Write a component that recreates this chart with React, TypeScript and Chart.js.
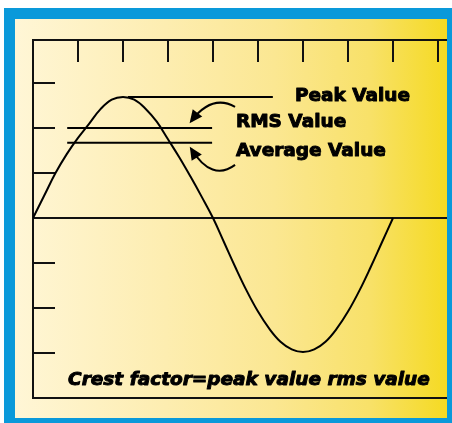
import React, { useEffect, useRef } from "react";
import { Chart, registerables } from "chart.js";

Chart.register(...registerables);

// ---- data (axis units: one tick = 1) ----
const xTicks = [1, 2, 3, 4, 5, 6, 7, 8, 9];
const yTicks = [-3, -2, -1, 1, 2, 3];
const waveX = [0, 0.25, 0.5, 0.75, 1, 1.25, 1.5, 1.75, 2, 2.25, 2.5, 2.75, 3, 3.25, 3.5, 3.75, 4,
  4.25, 4.5, 4.75, 5, 5.25, 5.5, 5.75, 6, 6.25, 6.5, 6.75, 7, 7.25, 7.5, 7.75, 8];
const waveY = [0, 0.5, 1.0, 1.42, 1.78, 2.1, 2.42, 2.63, 2.69, 2.63, 2.43, 2.14, 1.75, 1.35, 0.92, 0.47, 0,
  -0.55, -1.1, -1.62, -2.08, -2.46, -2.75, -2.92, -2.98, -2.92, -2.75, -2.46, -2.08, -1.62, -1.1, -0.55, 0];
const peakLevel = 2.69;
const rmsLevel = 2.0;
const avgLevel = 1.67;
const peakSpan = [2.11, 5.33];
const levelSpan = [0.76, 3.98];
const labels = ["Peak Value", "RMS Value", "Average Value"];
const formula = "Crest factor=peak value rms value";

const X_MIN = 0, X_MAX = 9.2, Y_MIN = -4, Y_MAX = 3.956;

const App = () => {
  const ref = useRef<HTMLCanvasElement>(null);
  useEffect(() => {
    if (!ref.current) return;
    const decor = {
      id: "decor",
      beforeDatasetsDraw(chart: any) {
        const { ctx, chartArea: a, scales } = chart;
        const xs = scales.x, ys = scales.y;
        ctx.save();
        ctx.strokeStyle = "#111";
        ctx.lineWidth = 2;
        ctx.beginPath();
        ctx.moveTo(a.right, a.top); ctx.lineTo(a.left, a.top); ctx.lineTo(a.left, a.bottom); ctx.lineTo(a.right, a.bottom);
        const y0 = ys.getPixelForValue(0);
        ctx.moveTo(a.left, y0); ctx.lineTo(a.right, y0);
        const tl = 22;
        xTicks.forEach((t) => {
          const px = xs.getPixelForValue(t);
          ctx.moveTo(px, a.top); ctx.lineTo(px, a.top + tl);
        });
        yTicks.forEach((t) => {
          const py = ys.getPixelForValue(t);
          ctx.moveTo(a.left, py); ctx.lineTo(a.left + tl, py);
        });
        ctx.stroke();
        ctx.restore();
      },
      afterDatasetsDraw(chart: any) {
        const { ctx, scales } = chart;
        const X = (v: number) => scales.x.getPixelForValue(v);
        const Y = (v: number) => scales.y.getPixelForValue(v);
        ctx.save();
        ctx.fillStyle = "#000";
        ctx.strokeStyle = "#000";
        ctx.lineWidth = 1;
        ctx.lineJoin = "round";
        ctx.textBaseline = "alphabetic";
        const txt = (s: string, x: number, y: number) => {
          ctx.fillText(s, X(x), Y(y));
          ctx.strokeText(s, X(x), Y(y));
        };
        ctx.font = "bold 18.5px 'DejaVu Sans'";
        txt(labels[0], 5.82, 2.59);
        txt(labels[1], 4.51, 2.03);
        txt(labels[2], 4.51, 1.38);
        ctx.font = "italic bold 18.5px 'DejaVu Sans'";
        txt(formula, 0.78, -3.71);
        const arrow = (t: number[], c: number[], h: number[]) => {
          const p0 = [X(t[0]), Y(t[1])], pc = [X(c[0]), Y(c[1])], p1 = [X(h[0]), Y(h[1])];
          ctx.lineWidth = 2;
          ctx.beginPath();
          ctx.moveTo(p0[0], p0[1]);
          ctx.quadraticCurveTo(pc[0], pc[1], p1[0], p1[1]);
          ctx.stroke();
          const dx = p1[0] - pc[0], dy = p1[1] - pc[1];
          const len = Math.hypot(dx, dy);
          const ux = dx / len, uy = dy / len;
          const L = 13, W = 6;
          const tipX = p1[0] + ux * 3, tipY = p1[1] + uy * 3;
          const bx = tipX - ux * L, by = tipY - uy * L;
          ctx.beginPath();
          ctx.moveTo(tipX, tipY);
          ctx.lineTo(bx - uy * W, by + ux * W);
          ctx.lineTo(bx + uy * W, by - ux * W);
          ctx.closePath();
          ctx.fill();
        };
        arrow([4.49, 2.47], [3.98, 2.76], [3.52, 2.16]);
        arrow([4.49, 1.18], [3.98, 0.8], [3.52, 1.53]);
        ctx.restore();
      },
    };
    const lineStyle = { borderColor: "#000", borderWidth: 2, pointRadius: 0, fill: false };
    const chart = new Chart(ref.current, {
      type: "line",
      data: {
        datasets: [
          { ...lineStyle, data: waveX.map((x, i) => ({ x, y: waveY[i] })), tension: 0.4 },
          { ...lineStyle, data: [{ x: peakSpan[0], y: peakLevel }, { x: peakSpan[1], y: peakLevel }] },
          { ...lineStyle, data: [{ x: levelSpan[0], y: rmsLevel }, { x: levelSpan[1], y: rmsLevel }] },
          { ...lineStyle, data: [{ x: levelSpan[0], y: avgLevel }, { x: levelSpan[1], y: avgLevel }] },
        ],
      } as any,
      options: {
        responsive: false,
        animation: false,
        devicePixelRatio: 1,
        layout: { padding: { left: 33, top: 40, right: 5, bottom: 25 } },
        plugins: { legend: { display: false }, tooltip: { enabled: false } },
        scales: {
          x: { type: "linear", min: X_MIN, max: X_MAX, display: false },
          y: { type: "linear", min: Y_MIN, max: Y_MAX, display: false },
        },
      } as any,
      plugins: [decor],
    });
    return () => chart.destroy();
  }, []);

  return (
    <div style={{ position: "absolute", left: 0, top: 0, width: 452, height: 423, background: "#fff", overflow: "hidden" }}>
      <div style={{ position: "absolute", left: 4, top: 8, width: 448, height: 415, background: "#0A99DA" }} />
      <div
        style={{
          position: "absolute", left: 15, top: 19, width: 432, height: 399,
          background: "linear-gradient(to right, #FFF6D6 0%, #FDEDB0 35%, #FBE792 60%, #F8E169 82%, #F5DA22 100%)",
        }}
      />
      <canvas ref={ref} width={452} height={423} style={{ position: "absolute", left: 0, top: 0 }} />
    </div>
  );
};

export default App;
